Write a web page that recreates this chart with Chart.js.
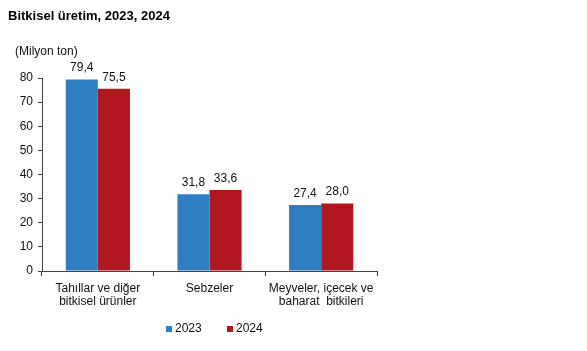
<!DOCTYPE html>
<html>
<head>
<meta charset="utf-8">
<script src="https://cdn.jsdelivr.net/npm/chart.js@4.4.1/dist/chart.umd.min.js"></script>
<style>
  html, body { margin: 0; padding: 0; background: #fff; }
  #wrap { width: 587px; height: 351px; }
</style>
</head>
<body>
<div id="wrap"><canvas id="bitkiselChart" width="587" height="351"></canvas></div>
<script>
var categories = [
    ['Tahıllar ve diğer', 'bitkisel ürünler'],
    ['Sebzeler'],
    ['Meyveler, içecek ve', 'baharat  bitkileri']
];
var years = ['2023', '2024'];
var values2023 = [79.4, 31.8, 27.4];
var values2024 = [75.5, 33.6, 28.0];
var yTicks = [0, 10, 20, 30, 40, 50, 60, 70, 80];

var colors = ['#2e7ec4', '#b0181d'];
var FONT = 'Arial, "Liberation Sans", sans-serif';

// title, unit, value labels and legend
var extras = {
    id: 'extras',
    afterDatasetsDraw: function (chart) {
        var ctx = chart.ctx;
        ctx.save();
        ctx.fillStyle = '#000';
        ctx.font = 'bold 13px ' + FONT;
        ctx.textAlign = 'left';
        ctx.textBaseline = 'middle';
        ctx.fillText('Bitkisel üretim, 2023, 2024', 8, 16);

        ctx.font = '12px ' + FONT;
        ctx.fillStyle = '#111';
        ctx.fillText('(Milyon ton)', 15, 52);

        // value labels
        ctx.textAlign = 'center';
        ctx.textBaseline = 'alphabetic';
        chart.data.datasets.forEach(function (ds, i) {
            chart.getDatasetMeta(i).data.forEach(function (bar, j) {
                var txt = ds.data[j].toFixed(1).replace('.', ',');
                ctx.fillText(txt, bar.x, bar.y - 8);
            });
        });

        // legend
        var lx = [166, 227];
        years.forEach(function (y, i) {
            ctx.fillStyle = colors[i];
            ctx.fillRect(lx[i], 326, 6, 6);
            ctx.fillStyle = '#111';
            ctx.textAlign = 'left';
            ctx.textBaseline = 'middle';
            ctx.fillText(y, lx[i] + 9, 329);
        });
        ctx.restore();
    }
};

var ctx = document.getElementById('bitkiselChart').getContext('2d');
new Chart(ctx, {
    type: 'bar',
    data: {
        labels: categories,
        datasets: [{
            label: years[0],
            data: values2023,
            backgroundColor: colors[0],
            barPercentage: 1.0,
            categoryPercentage: 0.575
        }, {
            label: years[1],
            data: values2024,
            backgroundColor: colors[1],
            barPercentage: 1.0,
            categoryPercentage: 0.575
        }]
    },
    options: {
        responsive: false,
        animation: false,
        events: [],
        layout: { padding: { left: 0, right: 210, top: 78, bottom: 0 } },
        plugins: {
            legend: { display: false },
            title: { display: false },
            tooltip: { enabled: false }
        },
        scales: {
            x: {
                offset: true,
                grid: {
                    offset: true,
                    drawOnChartArea: false,
                    drawTicks: true,
                    tickLength: 5,
                    color: '#404040'
                },
                border: { color: '#404040', width: 1 },
                ticks: {
                    color: '#111',
                    font: { family: FONT, size: 12, lineHeight: 1.1 },
                    padding: 6,
                    maxRotation: 0,
                    autoSkip: false
                },
                afterFit: function (scale) { scale.height = 80; }
            },
            y: {
                min: 0,
                max: 80,
                afterBuildTicks: function (scale) {
                    scale.ticks = yTicks.map(function (v) { return { value: v }; });
                },
                grid: {
                    drawOnChartArea: false,
                    drawTicks: true,
                    tickLength: 4,
                    color: '#404040'
                },
                border: { color: '#404040', width: 1 },
                ticks: {
                    color: '#111',
                    font: { family: FONT, size: 12 },
                    padding: 5
                },
                afterFit: function (scale) { scale.width = 42; }
            }
        }
    },
    plugins: [extras]
});
</script>
</body>
</html>
